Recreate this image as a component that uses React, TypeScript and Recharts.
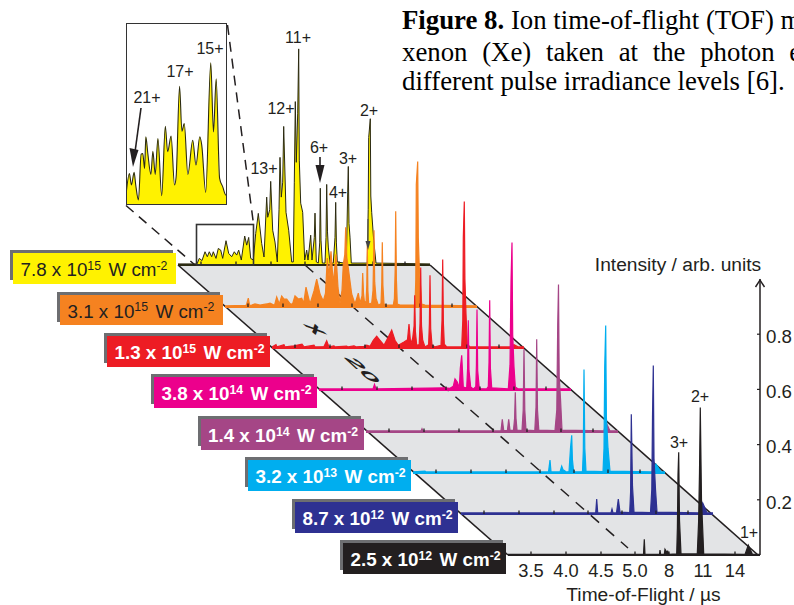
import React from 'react';
import { AreaChart, Area, XAxis, YAxis, ReferenceLine, ReferenceArea } from 'recharts';

// ---- data: [axis channel, intensity] ----
const tickChannels = [31, 66, 101, 135, 169, 203, 235];
const tickLabels = ['3.5', '4.0', '4.5', '5.0', '8', '11', '14'];
const intensityTicks = [0.2, 0.4, 0.6, 0.8];

const yellowPeaks: number[][] = [[8,.004],[27,.004],[29.3,.024],[32,.016],[35,.048],[37.3,.03],[39.3,.048],[41.7,.03],[43.3,.048],[46,.024],[48.3,.06],[50.7,.054],[52.7,.024],[56,.088],[58.7,.042],[61.7,.03],[64.3,.048],[66.7,.036],[68.7,.054],[71.3,.018],[74.7,.105],[76.7,.072],[78.7,.1],[80.7,.024],[83.3,.018],[85.7,.114],[88.3,.187],[91.7,.078],[94,.029],[96.7,.246],[97.7,.173],[99.7,.2],[100.7,.303],[102.7,.126],[105,.083],[107.3,.011],[109,.2],[110,.39],[111.3,.246],[112.7,.3],[113.7,.502],[116,.191],[118.7,.126],[121.7,.011],[123.3,.011],[124.3,.3],[125.3,.592],[126.3,.372],[127.7,.55],[128.7,.783],[129.3,.38],[130.7,.224],[132.7,.191],[134.7,.018],[136.7,.054],[138,.018],[140.7,.108],[142,.018],[144.3,.1],[145,.188],[146.3,.011],[148.3,.007],[149.7,.08],[150.3,.278],[151,.09],[152.3,.007],[155,.007],[156,.1],[156.7,.292],[157.5,.12],[158.3,.065],[160,.007],[163.3,.007],[165,.1],[165.7,.227],[166.4,.08],[167.3,.011],[174,.007],[176.3,.007],[177.7,.264],[178.3,.357],[179,.15],[180,.101],[181.3,.007],[195,.007],[197.3,.007],[198.2,.2],[198.7,.462],[200.3,.53],[200.8,.25],[201.7,.191],[203.7,.09],[206,.007],[260,.004]];
const orangePeaks: number[][] = [[8,.004],[29,.006],[29.7,.011],[31.3,.032],[32.6,.006],[34.7,.007],[38,.011],[43,.007],[49.7,.011],[53,.014],[57.5,.006],[59.7,.036],[62.3,.011],[64.7,.04],[67,.029],[69.7,.029],[73,.012],[75.5,.01],[78,.04],[81.3,.029],[84.7,.032],[86.7,.014],[89,.072],[93,.011],[97,.058],[99.7,.101],[103,.047],[106.3,.022],[108.5,.05],[110.3,.177],[112,.11],[114,.202],[116.3,.083],[119,.191],[121,.07],[123,.014],[125,.06],[126.3,.155],[127.8,.19],[128.7,.289],[129.8,.18],[131.3,.141],[134.7,.047],[138,.011],[141.3,.05],[143,.014],[145,.04],[145.7,.123],[146.5,.05],[147.3,.022],[149,.012],[149.8,.08],[150.3,.224],[150.9,.06],[151.7,.011],[154.7,.014],[156,.06],[156.7,.2],[157,.278],[157.7,.09],[159,.032],[161.3,.007],[164,.012],[164.8,.09],[165.3,.235],[165.9,.08],[167,.011],[169.7,.007],[176.3,.007],[177.4,.03],[178.2,.14],[178.7,.347],[179.4,.1],[180.3,.011],[183,.007],[198,.007],[198.8,.1],[199.3,.444],[200.7,.527],[201.3,.25],[202.3,.141],[204.7,.011],[208,.007],[260,.004]];
const redPeaks: number[][] = [[8,.004],[12,.012],[13,.004],[20,.012],[21,.004],[30,.008],[38,.014],[40,.004],[50,.01],[51,.004],[60,.005],[62.7,.026],[65,.004],[70,.008],[71,.004],[82.7,.007],[84,.004],[90,.008],[92,.004],[100,.006],[102.7,.01],[106,.006],[109.3,.028],[112.7,.043],[116,.028],[120,.01],[124.3,.04],[127.7,.065],[131,.028],[134.3,.01],[140,.022],[143.5,.03],[145,.087],[146.7,.014],[148.7,.036],[150.1,.08],[150.7,.191],[151.4,.06],[152.7,.01],[155.2,.012],[156,.09],[156.7,.292],[157.5,.08],[158.7,.028],[161,.004],[164.6,.012],[165.4,.09],[166,.264],[166.7,.07],[168,.011],[171,.004],[177,.01],[178,.1],[178.7,.321],[179.4,.09],[180.3,.014],[182.7,.004],[197.7,.004],[198.8,.1],[199.3,.4],[200.3,.531],[200.9,.25],[202,.123],[203.3,.014],[206,.004],[246,.004],[250,.012],[254,.004],[260,.004]];
const pinkPeaks: number[][] = [[8,.004],[62,.004],[63.5,.02],[65,.004],[134.3,.008],[139,.006],[142.3,.014],[144,.04],[146.3,.029],[148.3,.007],[149.3,.079],[150.7,.126],[152.3,.011],[155.7,.007],[156.6,.08],[157.3,.253],[158,.07],[159.7,.011],[162.3,.004],[164.8,.012],[165.4,.09],[166,.292],[166.7,.07],[168.3,.005],[175.7,.004],[177.3,.012],[178,.1],[178.7,.325],[179.4,.08],[180.7,.008],[197.3,.004],[199,.09],[200,.393],[201,.534],[201.7,.2],[203,.083],[204.3,.011],[207.3,.004],[260,.004]];
const purplePeaks: number[][] = [[8,.004],[63,.004],[64,.012],[65,.004],[143,.004],[144.3,.046],[145.7,.006],[149.4,.005],[150.7,.046],[152,.006],[155.5,.006],[156.6,.05],[157.3,.144],[158,.05],[159,.007],[164,.005],[165.2,.08],[166,.3],[166.8,.08],[168,.007],[176.8,.005],[178,.09],[178.7,.336],[179.5,.08],[180.8,.007],[197,.005],[198.8,.08],[199.7,.385],[200.5,.534],[201.2,.2],[202.5,.12],[204,.007],[246,.004],[248,.036],[252,.004],[260,.004]];
const bluePeaks: number[][] = [[8,.004],[20,.007],[21,.004],[143.5,.004],[145,.047],[146,.004],[155,.004],[156.7,.025],[158,.012],[160,.007],[161,.004],[164,.005],[165.5,.09],[166.7,.137],[167.4,.05],[168.5,.01],[170,.004],[177.5,.005],[178.3,.08],[179,.375],[179.8,.09],[181,.007],[198,.005],[199,.09],[199.7,.383],[200.7,.534],[201.4,.2],[203,.09],[205,.007],[247,.004],[251,.032],[256,.004],[260,.004]];
const navyPeaks: number[][] = [[8,.004],[142.7,.004],[143.7,.054],[144.7,.004],[158,.004],[159,.018],[160,.004],[163.5,.004],[164.8,.04],[165.3,.054],[167,.007],[176.7,.005],[177.6,.08],[178.3,.361],[179.5,.1],[181,.007],[197.5,.005],[198.8,.09],[199.5,.35],[200.3,.538],[201,.2],[202.5,.09],[204,.007],[246,.004],[249.7,.04],[254,.004],[260,.004]];
const blackPeaks: number[][] = [[8,.002],[143.5,.002],[144.3,.057],[145,.002],[159.5,.002],[160,.018],[160.6,.002],[164.3,.002],[165,.021],[166.5,.012],[167.7,.014],[169,.002],[176.7,.004],[177.4,.1],[178,.29],[178.7,.372],[179.5,.126],[181,.004],[197.3,.004],[198.6,.12],[199.5,.3],[200.3,.534],[201.5,.2],[203.7,.004],[245,.002],[248.3,.036],[252.5,.002],[260,.002]];
const insetPeaks: number[][] = [[27,.0073],[28.9,.0232],[30,.0147],[31.5,.024],[32.4,.0147],[33.9,.0037],[35.4,.0374],[36.3,.0379],[37.3,.0269],[38,.0502],[39.1,.0379],[40.8,.0225],[41.9,.0396],[43.2,.0225],[44.7,.0489],[46.8,.0069],[48.8,.058],[50.1,.0392],[52,.0507],[53.9,.0147],[54.8,.0208],[56.7,.0874],[58,.0543],[59.3,.06],[61.3,.0225],[64,.0477],[65.8,.0294],[67.9,.0502],[69,.0441],[71.2,.0093],[74,.1047],[75.5,.0538],[77,.093],[78.9,.0196],[80.6,.0135],[82.4,.0073],[83,.0073]];
const insetTicks = [32, 38.5, 45.5, 52.5, 59.5, 66, 72.5, 79.5];

const irradianceLabels = [
  ['7.8 x 10', '15'], ['3.1 x 10', '15'], ['1.3 x 10', '15'], ['3.8 x 10', '14'],
  ['1.4 x 10', '14'], ['3.2 x 10', '13'], ['8.7 x 10', '12'], ['2.5 x 10', '12'],
];
const seriesPeaks = [yellowPeaks, orangePeaks, redPeaks, pinkPeaks, purplePeaks, bluePeaks, navyPeaks, blackPeaks];

// ---- layout / style ----
const colors = ['#fff200', '#f58220', '#ed1c24', '#ec008c', '#a54686', '#00aeef', '#2e3192', '#231f20'];
const labelText = ['#231f20', '#231f20', '#fff', '#fff', '#fff', '#fff', '#fff', '#fff'];
const rowShift = [170, 217, 264, 311, 358, 405, 453, 500];
const rowBase = [265, 306.5, 348, 389.5, 431.5, 472.5, 514, 555];
const labelLeft = [13, 60, 107, 154, 200.5, 248, 295, 343];
const labelTop = [253, 294.5, 336, 377, 419, 460, 502, 543];
const PLOT_H = 276;
const FONT = '"Liberation Sans", Arial, sans-serif';
const DARK = '#231f20';

const toRows = (p: number[][]) => p.map(([c, v]) => ({ c, v }));

const RowTick = (props: any) => {
  const { x, y, payload, labelled } = props;
  const i = tickChannels.indexOf(payload.value);
  return (
    <g>
      <line x1={x} x2={x} y1={y} y2={y - 3.5} stroke={DARK} strokeWidth={1.3} />
      {labelled && (
        <text x={x} y={y + 21.5} textAnchor="middle" fontFamily={FONT} fontSize={18.3} fill={DARK}>{tickLabels[i]}</text>
      )}
    </g>
  );
};

const IntensityTick = (props: any) => {
  const { x, y, payload } = props;
  return (
    <g>
      <line x1={x - 3} x2={x} y1={y} y2={y} stroke={DARK} strokeWidth={1.2} />
      <text x={x + 6} y={y + 8.7} fontFamily={FONT} fontSize={18.7} fill={DARK}>{payload.value.toFixed(1)}</text>
    </g>
  );
};

function Row({ index }: { index: number }) {
  const color = colors[index];
  const isYellow = index === 0;
  const isBlack = index === 7;
  return (
    <div style={{ position: 'absolute', left: rowShift[index] + 8, top: rowBase[index] - PLOT_H }}>
      <AreaChart width={252 + (isBlack ? 34 : 0)} height={PLOT_H + 34} data={toRows(seriesPeaks[index])}
        margin={{ top: 0, right: 0, bottom: 0, left: 0 }}>
        <XAxis dataKey="c" type="number" domain={[8, 260]} ticks={tickChannels} interval={0} height={34}
          tickSize={0} tickMargin={0} tickLine={false}
          axisLine={{ stroke: isYellow ? '#2b2a12' : color, strokeWidth: 2 }}
          tick={(p: any) => <RowTick {...p} labelled={isBlack} />} />
        <YAxis domain={[0, 1]} orientation="right" ticks={intensityTicks} interval={0} width={isBlack ? 34 : 0} hide={!isBlack}
          tickSize={0} tickMargin={0} tickLine={false} axisLine={{ stroke: DARK, strokeWidth: 1.5 }}
          tick={(p: any) => <IntensityTick {...p} />} />
        <Area type="linear" dataKey="v" isAnimationActive={false} dot={false} activeDot={false}
          fill={color} fillOpacity={1} stroke={isYellow ? '#2b2a12' : color} strokeWidth={isYellow ? 1 : 1.2} />
      </AreaChart>
    </div>
  );
}

const planeBand = [
  { x: 178, band: [265, 265] },
  { x: 430, band: [265, 486.5] },
  { x: 508, band: [333.6, 555] },
  { x: 758, band: [555, 555] },
];

function Plane() {
  return (
    <div style={{ position: 'absolute', left: 0, top: 0 }}>
      <AreaChart width={794} height={605} data={planeBand} margin={{ top: 0, right: 0, bottom: 0, left: 0 }}>
        <XAxis dataKey="x" type="number" domain={[0, 794]} hide />
        <YAxis domain={[0, 605]} reversed hide />
        <Area type="linear" dataKey="band" isAnimationActive={false} fill="#e3e4e6" fillOpacity={1} stroke="none" dot={false} activeDot={false} />
        <ReferenceLine segment={[{ x: 178, y: 265 }, { x: 508, y: 555 }]} stroke={DARK} strokeWidth={1.6} />
        <ReferenceLine segment={[{ x: 430, y: 265 }, { x: 758, y: 555 }]} stroke={DARK} strokeWidth={1.6} />
        <ReferenceLine segment={[{ x: 305, y: 265 }, { x: 628, y: 548 }]} stroke={DARK} strokeWidth={1.5} strokeDasharray="11 9" />
      </AreaChart>
    </div>
  );
}

function Inset() {
  return (
    <div style={{ position: 'absolute', left: 126, top: 23 }}>
      <AreaChart width={101} height={182} data={toRows(insetPeaks)} margin={{ top: 0, right: 0, bottom: 0, left: 0 }}>
        <XAxis dataKey="c" type="number" domain={[27, 83]} ticks={insetTicks} interval={0} height={0}
          tickSize={0} tickMargin={0} tickLine={false} axisLine={false}
          tick={(p: any) => <line x1={p.x} x2={p.x} y1={p.y} y2={p.y - 3} stroke={DARK} strokeWidth={1} />} />
        <YAxis domain={[0, 0.134]} hide />
        <Area type="monotone" dataKey="v" isAnimationActive={false} dot={false} activeDot={false}
          fill={colors[0]} fillOpacity={1} stroke="#2b2a12" strokeWidth={1.1} />
        <ReferenceArea x1={27} x2={83} y1={0} y2={0.134} fill="none" stroke="#333" strokeWidth={2} ifOverflow="visible" />
      </AreaChart>
    </div>
  );
}

const chargeLabels: [string, number, number][] = [
  ['15+', 210, 48], ['17+', 180, 71], ['21+', 147, 97], ['11+', 298, 37.5], ['12+', 281, 108.5],
  ['13+', 264, 168], ['6+', 319, 147], ['3+', 348, 158], ['4+', 338, 192], ['2+', 369, 110],
  ['3+', 679, 442.5], ['2+', 700, 396], ['1+', 749, 532.5],
];

function PlaneText() {
  return (
    <svg width={794} height={605} style={{ position: 'absolute', left: 0, top: 0 }}>
      <text transform="matrix(1.6,1.4,-1.5,0,302.6,323.4)" fontFamily={FONT} fontSize={15} fontWeight={700} fill={DARK}>x</text>
      <text transform="matrix(1.7,1.55,-1.1,0,343,357)" fontFamily={FONT} fontSize={15} fontWeight={700} fill={DARK}>20</text>
    </svg>
  );
}

function Overlay() {
  const serif = '"Liberation Serif", serif';
  return (
    <svg width={794} height={605} style={{ position: 'absolute', left: 0, top: 0 }}>
      <text x={402} y={29} fontFamily={serif} fontSize={26.8} fill="#000">
        <tspan fontWeight={700}>Figure 8.</tspan> Ion time-of-flight (TOF) m
      </text>
      <text x={402} y={60.5} fontFamily={serif} fontSize={26.8} wordSpacing={8} fill="#000">xenon (Xe) taken at the photon e</text>
      <text x={402} y={90} fontFamily={serif} fontSize={26.8} fill="#000">different pulse irradiance levels [6].</text>

      {/* frame around the zoomed region and its guide lines */}
      <rect x={196.5} y={224.5} width={57} height={40.5} fill="none" stroke="#333" strokeWidth={1.6} />
      <line x1={126} y1={205.5} x2={195} y2={265} stroke={DARK} strokeWidth={1.5} strokeDasharray="10 7" />
      <line x1={227.5} y1={25} x2={253.5} y2={224} stroke={DARK} strokeWidth={1.5} strokeDasharray="10 7" />

      {/* arrows */}
      <line x1={141} y1={108} x2={135} y2={152} stroke={DARK} strokeWidth={1.6} />
      <polygon points="133,167 129.5,148 138.5,150" fill={DARK} />
      <line x1={320} y1={157} x2={320} y2={168} stroke={DARK} strokeWidth={1.6} />
      <polygon points="320,183 315.5,165 324.5,165" fill={DARK} />
      <line x1={368} y1={219} x2={368} y2={245} stroke="#555" strokeWidth={1.2} />
      <polygon points="368,250 365.5,241 370.5,241" fill="#444" />
      <path d="M755.5 287 L760 280 L764.5 287" fill="none" stroke={DARK} strokeWidth={1.4} />

      {chargeLabels.map(([t, x, y], i) => (
        <text key={i} x={x} y={y + 5.8} textAnchor="middle" fontFamily={FONT} fontSize={16} fill={DARK}>{t}</text>
      ))}

      <text x={678} y={270.5} textAnchor="middle" fontFamily={FONT} fontSize={19.2} fill={DARK}>Intensity / arb. units</text>
      <text x={643.5} y={601} textAnchor="middle" fontFamily={FONT} fontSize={19.2} fill={DARK}>Time-of-Flight / µs</text>
    </svg>
  );
}

function IrradianceLabel({ index }: { index: number }) {
  const [mant, exp] = irradianceLabels[index];
  const left = labelLeft[index];
  const top = labelTop[index];
  const bold = index >= 2;
  const sup: React.CSSProperties = { fontSize: 12.3, position: 'relative', top: -6.5 };
  return (
    <>
      <div style={{ position: 'absolute', left: left - 3, top: top - 3, width: 163, height: 30, background: '#6d6e71' }} />
      <div style={{
        position: 'absolute', left, top, width: 163, height: 30.5, background: colors[index], color: labelText[index],
        fontFamily: FONT, fontSize: 18.8, fontWeight: bold ? 700 : 400, lineHeight: '33px',
        whiteSpace: 'nowrap', paddingLeft: 7.5, boxSizing: 'border-box', overflow: 'hidden',
      }}>
        {mant}
        <span style={sup}>{exp}</span>
        <span style={{ marginLeft: 7.5 }}>W cm</span>
        <span style={sup}>-2</span>
      </div>
    </>
  );
}

export default function App() {
  return (
    <div style={{ position: 'absolute', left: 0, top: 0, width: 794, height: 605, overflow: 'hidden', background: '#fff' }}>
      <Plane />
      <PlaneText />
      {colors.map((_, i) => <Row key={i} index={i} />)}
      <Inset />
      <Overlay />
      {colors.map((_, i) => <IrradianceLabel key={i} index={i} />)}
    </div>
  );
}
